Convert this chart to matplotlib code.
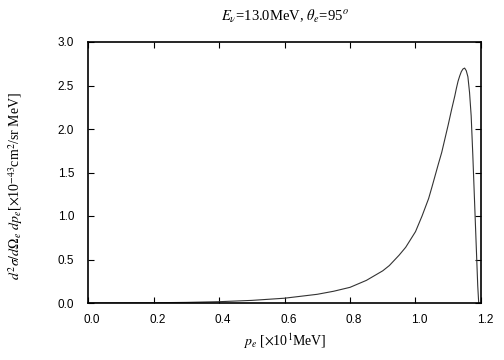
import matplotlib
matplotlib.use("Agg")
import matplotlib.pyplot as plt
import matplotlib.transforms as mtrans

# electron momentum p_e [x10 MeV] and cross section [x1e-43 cm^2/sr MeV]
p_e = [0.0, 0.1, 0.2, 0.3, 0.4, 0.5, 0.6, 0.7, 0.75, 0.8, 0.85, 0.9,
       0.92, 0.95, 0.97, 1.0, 1.02, 1.04, 1.05, 1.07, 1.08, 1.09, 1.1,
       1.11, 1.12, 1.125, 1.13, 1.135, 1.14, 1.145, 1.15, 1.155, 1.16,
       1.165, 1.17, 1.175, 1.18, 1.185, 1.19, 1.193]
xsec = [0.0, 0.001, 0.003, 0.007, 0.015, 0.03, 0.055, 0.1, 0.135, 0.18,
        0.26, 0.37, 0.43, 0.55, 0.64, 0.82, 1.0, 1.2, 1.33, 1.6, 1.73,
        1.89, 2.05, 2.22, 2.38, 2.47, 2.55, 2.61, 2.66, 2.69, 2.70, 2.67,
        2.6, 2.42, 2.15, 1.7, 1.2, 0.7, 0.2, 0.0]

xticks = [0.0, 0.2, 0.4, 0.6, 0.8, 1.0, 1.2]
yticks = [0.0, 0.5, 1.0, 1.5, 2.0, 2.5, 3.0]

plt.rcParams["mathtext.fontset"] = "stix"
serif = "Liberation Serif"
sans = "Liberation Sans"

fig = plt.figure(figsize=(5.04, 3.6), dpi=100)
ax = fig.add_axes([88 / 504, 57 / 360, 393 / 504, 261 / 360])

ax.plot(p_e, xsec, color="#333333", lw=0.8)

ax.set_xlim(0.0, 1.2)
ax.set_ylim(0.0, 3.0)
ax.set_xticks(xticks)
ax.set_yticks(yticks)
ax.set_xticklabels([f"{v:.1f}" for v in xticks], family=sans, fontsize=8.5)
ax.set_yticklabels([f"{v:.1f}" for v in yticks], family=sans, fontsize=8.5)
ax.tick_params(direction="in", length=4, width=0.8, top=True, right=True)
ax.tick_params(axis="x", pad=8)
ax.tick_params(axis="y", pad=10)
# gnuplot-ish: x labels sit a bit right of their ticks
off = mtrans.ScaledTranslation(4 / 100, 0, fig.dpi_scale_trans)
for lab in ax.get_xticklabels():
    lab.set_transform(lab.get_transform() + off)

for sp in ax.spines.values():
    sp.set_linewidth(1.2)

ax.set_title(r"$E_\nu$=13.0MeV, $\theta_e$=95$^o$", family=serif,
             fontsize=10.5, pad=15)
ax.set_xlabel(r"$p_e$ [$\times$10$^1$MeV]", family=serif, fontsize=10)
ax.xaxis.set_label_coords(0.5, -0.11)
ax.set_ylabel(r"$d^2\sigma/d\Omega_e\ dp_e$[$\times$10$^{-43}$cm$^2$/sr MeV]",
              family=serif, fontsize=10)
ax.yaxis.set_label_coords(-0.16, 0.45)

fig.savefig("out.png", dpi=100)
